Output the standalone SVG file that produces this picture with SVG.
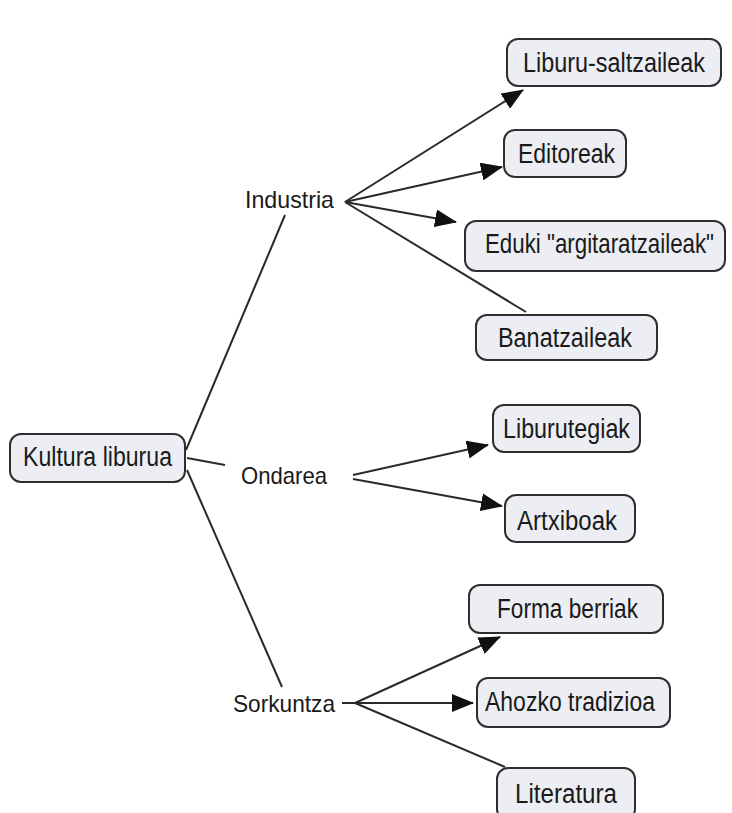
<svg xmlns="http://www.w3.org/2000/svg" width="732" height="813" viewBox="0 0 732 813">
<style>
.box{fill:#eceef3;stroke:#2e2e2e;stroke-width:2}
.t{font-family:"Liberation Sans Narrow","Liberation Sans",Arial,sans-serif;font-size:27px;fill:#1a1a1a}
.l{font-family:"Liberation Sans Narrow","Liberation Sans",Arial,sans-serif;font-size:24px;fill:#1a1a1a}
.c line{stroke:#2a2a2a;stroke-width:2;fill:none}
</style>
<defs>
<marker id="ah" markerUnits="userSpaceOnUse" markerWidth="22" markerHeight="18" refX="21" refY="9" orient="auto">
<path d="M0,0 L22,9 L0,18 z" fill="#111"/>
</marker>
</defs>
<rect width="732" height="813" fill="#fff"/>
<g class="c" id="connectors">
<line x1="186" y1="450" x2="285" y2="215"/>
<line x1="187" y1="458" x2="225" y2="465"/>
<line x1="187" y1="470" x2="282" y2="687"/>
<line x1="345" y1="202" x2="523" y2="90" marker-end="url(#ah)"/>
<line x1="345" y1="202" x2="502" y2="167" marker-end="url(#ah)"/>
<line x1="345" y1="202" x2="456" y2="222" marker-end="url(#ah)"/>
<line x1="345" y1="202" x2="526" y2="312"/>
<line x1="353" y1="475" x2="488" y2="445" marker-end="url(#ah)"/>
<line x1="353" y1="479" x2="502" y2="506" marker-end="url(#ah)"/>
<line x1="342" y1="703" x2="356" y2="703"/>
<line x1="355" y1="703" x2="500" y2="637" marker-end="url(#ah)"/>
<line x1="355" y1="703" x2="473" y2="703" marker-end="url(#ah)"/>
<line x1="355" y1="703" x2="505" y2="767"/>
</g>
<g id="kultura"><rect class="box" x="10" y="434" width="175" height="48" rx="11"/><text class="t" x="23" y="466" textLength="149" lengthAdjust="spacingAndGlyphs">Kultura liburua</text></g>
<g id="industria"><text class="l" x="245" y="208" textLength="89" lengthAdjust="spacingAndGlyphs">Industria</text></g>
<g id="ondarea"><text class="l" x="241" y="484" textLength="86" lengthAdjust="spacingAndGlyphs">Ondarea</text></g>
<g id="sorkuntza"><text class="l" x="233" y="712" textLength="102" lengthAdjust="spacingAndGlyphs">Sorkuntza</text></g>
<g id="liburu-saltzaileak"><rect class="box" x="507" y="39" width="214" height="47" rx="11"/><text class="t" x="523" y="72" textLength="182" lengthAdjust="spacingAndGlyphs">Liburu-saltzaileak</text></g>
<g id="editoreak"><rect class="box" x="504" y="130" width="122" height="47" rx="11"/><text class="t" x="518" y="163" textLength="97" lengthAdjust="spacingAndGlyphs">Editoreak</text></g>
<g id="eduki"><rect class="box" x="465" y="221" width="260" height="50" rx="11"/><text class="t" x="0" y="0" transform="translate(485,253) scale(0.839,1)" textLength="273" lengthAdjust="spacingAndGlyphs">Eduki "argitaratzaileak"</text></g>
<g id="banatzaileak"><rect class="box" x="476" y="315" width="181" height="45" rx="11"/><text class="t" x="498" y="347" textLength="134" lengthAdjust="spacingAndGlyphs">Banatzaileak</text></g>
<g id="liburutegiak"><rect class="box" x="493" y="405" width="147" height="47" rx="11"/><text class="t" x="503" y="438" textLength="127" lengthAdjust="spacingAndGlyphs">Liburutegiak</text></g>
<g id="artxiboak"><rect class="box" x="505" y="495" width="130" height="47" rx="11"/><text class="t" x="517" y="530" textLength="100" lengthAdjust="spacingAndGlyphs">Artxiboak</text></g>
<g id="forma-berriak"><rect class="box" x="469" y="585" width="194" height="48" rx="11"/><text class="t" x="497" y="618" textLength="141" lengthAdjust="spacingAndGlyphs">Forma berriak</text></g>
<g id="ahozko-tradizioa"><rect class="box" x="477" y="678" width="193" height="49" rx="11"/><text class="t" x="485" y="711" textLength="170" lengthAdjust="spacingAndGlyphs">Ahozko tradizioa</text></g>
<g id="literatura"><rect class="box" x="497" y="768" width="138" height="52" rx="11"/><text class="t" x="515" y="803" textLength="102" lengthAdjust="spacingAndGlyphs">Literatura</text></g>
</svg>
